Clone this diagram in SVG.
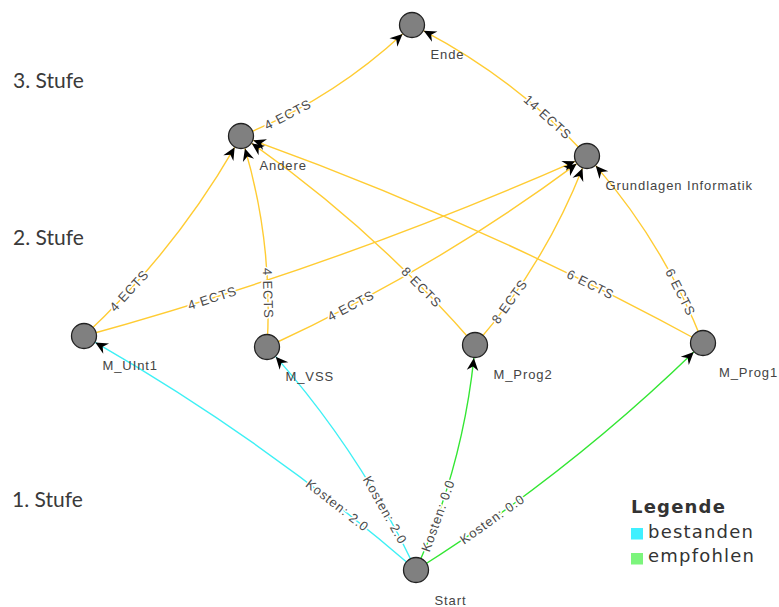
<svg xmlns="http://www.w3.org/2000/svg" width="779" height="607" viewBox="0 0 779 607">
<style>
.bg{fill:#fff}
.e{fill:none;stroke-width:1.4}
.y{stroke:#ffcc33}
.c{stroke:#3ef0f5}
.g{stroke:#33e633}
.el{font-family:"Liberation Sans",Arial,sans-serif;font-size:13px;letter-spacing:0.9px;fill:#4a4a4a;text-anchor:middle;stroke:#fff;stroke-width:3;stroke-linejoin:round;paint-order:stroke}
.n{fill:#808080;stroke:#222;stroke-width:1.3}
.nl{font-family:"Liberation Sans",Arial,sans-serif;font-size:13px;letter-spacing:0.9px;fill:#444}
.st{font-family:Lato,"Open Sans",sans-serif;font-size:21px;fill:#3a3a3a}
.lg{font-family:"DejaVu Sans",sans-serif;font-size:18px;fill:#333;letter-spacing:1.2px}
</style>
<defs>
<marker id="arr" markerUnits="userSpaceOnUse" markerWidth="15" markerHeight="14" viewBox="-13 -7 15 14" refX="0" refY="0" orient="auto">
<path d="M0,0 L-12.5,-5.8 L-8.5,0 L-12.5,5.8 Z" fill="#000"/>
</marker>
</defs>
<rect class="bg" x="0" y="0" width="779" height="607"/>

<g id="stages">
<text class="st" x="13" y="88">3. Stufe</text>
<text class="st" x="13" y="245">2. Stufe</text>
<text class="st" x="12" y="507">1. Stufe</text>
</g>

<g id="connectors">
<path class="e y" d="M241,136 Q331.36,99.70 402.57,33.92" marker-end="url(#arr)"/>
<path class="e y" d="M587,156 Q515.91,79.26 423.64,30.79" marker-end="url(#arr)"/>
<path class="e y" d="M84,336 Q173.47,252.78 234.66,147.35" marker-end="url(#arr)"/>
<path class="e y" d="M84,336 Q335.96,266.55 575.12,161.28" marker-end="url(#arr)"/>
<path class="e y" d="M267,347 Q273.44,245.53 244.95,148.39" marker-end="url(#arr)"/>
<path class="e y" d="M267,347 Q431.34,271.39 576.61,163.82" marker-end="url(#arr)"/>
<path class="e y" d="M475,345 Q375.58,230.49 251.71,143.36" marker-end="url(#arr)"/>
<path class="e y" d="M475,345 Q543.95,265.61 582.48,168.19" marker-end="url(#arr)"/>
<path class="e y" d="M703,343 Q485.89,224.37 253.25,140.36" marker-end="url(#arr)"/>
<path class="e y" d="M703,343 Q664.38,245.01 595.72,165.64" marker-end="url(#arr)"/>
<path class="e c" d="M416,570 Q266.45,440.9 95.31,342.41" marker-end="url(#arr)"/>
<path class="e c" d="M416,570 Q360.91,453.26 275.74,356.63" marker-end="url(#arr)"/>
<path class="e g" d="M416,570 Q462.16,468.49 473.88,357.95" marker-end="url(#arr)"/>
<path class="e g" d="M416,570 Q566.4,475.64 693.74,352.12" marker-end="url(#arr)"/>

<text class="el" transform="translate(287.8,114.5) rotate(-27.4)" y="4.5">4 ECTS</text>
<text class="el" transform="translate(547.75,117.24) rotate(42)" y="4.5">14 ECTS</text>
<text class="el" transform="translate(129.15,290.63) rotate(-47.4)" y="4.5">4 ECTS</text>
<text class="el" transform="translate(212.3,298.06) rotate(-17.55)" y="4.5">4 ECTS</text>
<text class="el" transform="translate(267.94,293.33) rotate(88.4)" y="4.5">4 ECTS</text>
<text class="el" transform="translate(350.85,305.69) rotate(-27.76)" y="4.5">4 ECTS</text>
<text class="el" transform="translate(421.5,287.15) rotate(45.42)" y="4.5">8 ECTS</text>
<text class="el" transform="translate(509.46,301.57) rotate(-54.15)" y="4.5">8 ECTS</text>
<text class="el" transform="translate(590.57,284.41) rotate(26.39)" y="4.5">6 ECTS</text>
<text class="el" transform="translate(680.38,292.3) rotate(63.38)" y="4.5">6 ECTS</text>
<text class="el" transform="translate(337.32,505.37) rotate(38)" y="4.5">Kosten: 2.0</text>
<text class="el" transform="translate(384.99,510.09) rotate(60.52)" y="4.5">Kosten: 2.0</text>
<text class="el" transform="translate(438.01,515.65) rotate(-70.38)" y="4.5">Kosten: 0.0</text>
<text class="el" transform="translate(492.41,519.14) rotate(-35.22)" y="4.5">Kosten: 0.0</text>
</g>

<g id="ende"><circle class="n" cx="412" cy="25" r="12.5"/><text class="nl" x="430.5" y="58.5">Ende</text></g>
<g id="andere"><circle class="n" cx="241" cy="136" r="12.5"/><text class="nl" x="259.5" y="169.5">Andere</text></g>
<g id="grundlagen"><circle class="n" cx="587" cy="156" r="12.5"/><text class="nl" x="605.5" y="189.5">Grundlagen Informatik</text></g>
<g id="m_uint1"><circle class="n" cx="84" cy="336" r="12.5"/><text class="nl" x="102.5" y="369.5">M_UInt1</text></g>
<g id="m_vss"><circle class="n" cx="267" cy="347" r="12.5"/><text class="nl" x="285.5" y="380.5">M_VSS</text></g>
<g id="m_prog2"><circle class="n" cx="475" cy="345" r="12.5"/><text class="nl" x="493.5" y="378.5">M_Prog2</text></g>
<g id="m_prog1"><circle class="n" cx="703" cy="343" r="12.5"/><text class="nl" x="719" y="376.5" letter-spacing="0.5">M_Prog1</text></g>
<g id="start"><circle class="n" cx="416" cy="570" r="12.5"/><text class="nl" x="434.5" y="604.5">Start</text></g>

<g id="legend">
<text class="lg" x="631" y="513" font-weight="bold" letter-spacing="0">Legende</text>
<rect x="631" y="528" width="12" height="11.5" fill="#40f0ff"/>
<text class="lg" x="648" y="538">bestanden</text>
<rect x="631" y="553" width="12" height="11.5" fill="#7cf57c"/>
<text class="lg" x="648" y="562">empfohlen</text>
</g>
</svg>
